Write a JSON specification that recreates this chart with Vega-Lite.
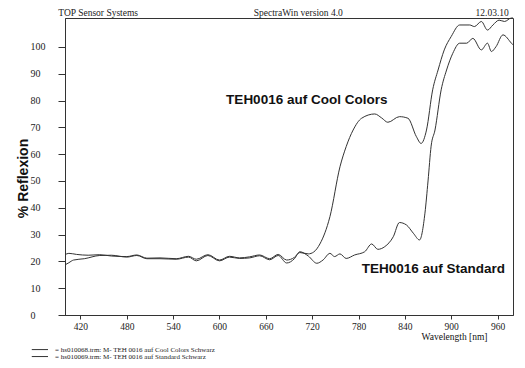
{
  "$schema": "https://vega.github.io/schema/vega-lite/v6.json",
  "width": 448,
  "height": 297,
  "autosize": {"type": "none"},
  "padding": {"left": 65, "top": 18, "right": 12, "bottom": 53},
  "background": "white",
  "config": {
    "view": {"stroke": "#333", "strokeWidth": 1},
    "axis": {"grid": false, "domainColor": "#333", "tickColor": "#333", "labelColor": "#222", "titleColor": "#111"}
  },
  "datasets": {
    "curves": [
      {"series": "Cool", "w": 400, "v": 22.5}, {"series": "Cool", "w": 405, "v": 23}, {"series": "Cool", "w": 415, "v": 22.6},
      {"series": "Cool", "w": 430, "v": 22.3}, {"series": "Cool", "w": 445, "v": 22.5}, {"series": "Cool", "w": 460, "v": 22},
      {"series": "Cool", "w": 480, "v": 21.8}, {"series": "Cool", "w": 493, "v": 22.4}, {"series": "Cool", "w": 506, "v": 21.2},
      {"series": "Cool", "w": 523, "v": 21.3}, {"series": "Cool", "w": 544, "v": 21}, {"series": "Cool", "w": 560, "v": 21.9},
      {"series": "Cool", "w": 570, "v": 20.8}, {"series": "Cool", "w": 585, "v": 22.5}, {"series": "Cool", "w": 600, "v": 20.5},
      {"series": "Cool", "w": 613, "v": 21.9}, {"series": "Cool", "w": 626, "v": 21.3}, {"series": "Cool", "w": 639, "v": 21.7},
      {"series": "Cool", "w": 652, "v": 22.4}, {"series": "Cool", "w": 665, "v": 21}, {"series": "Cool", "w": 676, "v": 22.6},
      {"series": "Cool", "w": 687, "v": 20.5}, {"series": "Cool", "w": 697, "v": 21.5}, {"series": "Cool", "w": 704, "v": 23.3},
      {"series": "Cool", "w": 715, "v": 22.8}, {"series": "Cool", "w": 722, "v": 23.5}, {"series": "Cool", "w": 730, "v": 26.5},
      {"series": "Cool", "w": 743, "v": 36.7}, {"series": "Cool", "w": 756, "v": 55.3}, {"series": "Cool", "w": 764, "v": 62.8},
      {"series": "Cool", "w": 773, "v": 69}, {"series": "Cool", "w": 784, "v": 73.4}, {"series": "Cool", "w": 801, "v": 75},
      {"series": "Cool", "w": 810, "v": 73.5}, {"series": "Cool", "w": 818, "v": 71.9}, {"series": "Cool", "w": 833, "v": 74},
      {"series": "Cool", "w": 844, "v": 73.4}, {"series": "Cool", "w": 855, "v": 66.5}, {"series": "Cool", "w": 861, "v": 64},
      {"series": "Cool", "w": 868, "v": 69}, {"series": "Cool", "w": 876, "v": 84}, {"series": "Cool", "w": 883, "v": 91.4},
      {"series": "Cool", "w": 891, "v": 98.9}, {"series": "Cool", "w": 900, "v": 103.9}, {"series": "Cool", "w": 911, "v": 108.2},
      {"series": "Cool", "w": 924, "v": 108.2}, {"series": "Cool", "w": 930, "v": 107.6}, {"series": "Cool", "w": 939, "v": 109.5},
      {"series": "Cool", "w": 947, "v": 106.3}, {"series": "Cool", "w": 954, "v": 108.2}, {"series": "Cool", "w": 962, "v": 110},
      {"series": "Cool", "w": 969, "v": 109.5}, {"series": "Cool", "w": 978, "v": 110.8}, {"series": "Cool", "w": 980, "v": 110.8},

      {"series": "Standard", "w": 400, "v": 18.7}, {"series": "Standard", "w": 405, "v": 19.5}, {"series": "Standard", "w": 411, "v": 20.5},
      {"series": "Standard", "w": 425, "v": 21}, {"series": "Standard", "w": 445, "v": 22.2}, {"series": "Standard", "w": 460, "v": 22.3},
      {"series": "Standard", "w": 480, "v": 21.6}, {"series": "Standard", "w": 493, "v": 22.2}, {"series": "Standard", "w": 506, "v": 21},
      {"series": "Standard", "w": 523, "v": 21}, {"series": "Standard", "w": 544, "v": 20.8}, {"series": "Standard", "w": 560, "v": 21.6},
      {"series": "Standard", "w": 570, "v": 20.2}, {"series": "Standard", "w": 585, "v": 22.2}, {"series": "Standard", "w": 600, "v": 20.2},
      {"series": "Standard", "w": 613, "v": 21.6}, {"series": "Standard", "w": 626, "v": 21.1}, {"series": "Standard", "w": 639, "v": 21.3},
      {"series": "Standard", "w": 652, "v": 22.1}, {"series": "Standard", "w": 665, "v": 20.6}, {"series": "Standard", "w": 676, "v": 22.2},
      {"series": "Standard", "w": 687, "v": 19.4}, {"series": "Standard", "w": 697, "v": 21}, {"series": "Standard", "w": 704, "v": 23.6},
      {"series": "Standard", "w": 715, "v": 22}, {"series": "Standard", "w": 726, "v": 19.3}, {"series": "Standard", "w": 734, "v": 20.5},
      {"series": "Standard", "w": 743, "v": 23}, {"series": "Standard", "w": 749, "v": 21.8}, {"series": "Standard", "w": 756, "v": 22.8},
      {"series": "Standard", "w": 764, "v": 21.1}, {"series": "Standard", "w": 775, "v": 22.4}, {"series": "Standard", "w": 788, "v": 23.6},
      {"series": "Standard", "w": 797, "v": 26.5}, {"series": "Standard", "w": 805, "v": 24.5}, {"series": "Standard", "w": 814, "v": 25.5},
      {"series": "Standard", "w": 825, "v": 29.2}, {"series": "Standard", "w": 833, "v": 34.5}, {"series": "Standard", "w": 842, "v": 33.6},
      {"series": "Standard", "w": 851, "v": 30.5}, {"series": "Standard", "w": 859, "v": 28}, {"series": "Standard", "w": 866, "v": 38},
      {"series": "Standard", "w": 870, "v": 50}, {"series": "Standard", "w": 874, "v": 63}, {"series": "Standard", "w": 879, "v": 69},
      {"series": "Standard", "w": 887, "v": 84}, {"series": "Standard", "w": 894, "v": 91.4}, {"series": "Standard", "w": 902, "v": 97.6},
      {"series": "Standard", "w": 911, "v": 101.4}, {"series": "Standard", "w": 920, "v": 101.4}, {"series": "Standard", "w": 928, "v": 103.2},
      {"series": "Standard", "w": 939, "v": 98.9}, {"series": "Standard", "w": 947, "v": 101.4}, {"series": "Standard", "w": 952, "v": 98.3},
      {"series": "Standard", "w": 958, "v": 100.1}, {"series": "Standard", "w": 967, "v": 104.5}, {"series": "Standard", "w": 978, "v": 101.4},
      {"series": "Standard", "w": 980, "v": 100.8}
    ],
    "labels": [
      {"w": 713, "v": 80.2, "label": "TEH0016 auf Cool Colors"},
      {"w": 877, "v": 17.2, "label": "TEH0016 auf Standard"}
    ],
    "header": [
      {"w": 443, "v": 112.8, "label": "TOP Sensor Systems"},
      {"w": 702, "v": 112.8, "label": "SpectraWin version 4.0"},
      {"w": 953, "v": 112.8, "label": "12.03.10"}
    ],
    "legendLines": [
      {"w": 357, "w2": 378, "v": -12.9},
      {"w": 357, "w2": 378, "v": -15.5}
    ],
    "legendText": [
      {"w": 387, "v": -12.9, "label": "= hs010068.trm:  M- TEH 0016 auf Cool Colors Schwarz"},
      {"w": 387, "v": -15.5, "label": "= hs010069.trm:  M- TEH 0016 auf Standard Schwarz"}
    ]
  },
  "encoding": {
    "x": {
      "field": "w", "type": "quantitative",
      "scale": {"domain": [400, 980], "nice": false, "zero": false},
      "axis": {
        "values": [420, 480, 540, 600, 660, 720, 780, 840, 900, 960],
        "labelFont": "Liberation Serif", "labelFontSize": 9.5, "tickSize": 4, "labelPadding": 2,
        "title": "Wavelength [nm]", "titleFont": "Liberation Serif", "titleFontSize": 9.5, "titleFontWeight": "normal",
        "titleAlign": "right", "titleAnchor": "end", "titleX": 422, "titleY": 21, "titleBaseline": "middle"
      }
    },
    "y": {
      "field": "v", "type": "quantitative",
      "scale": {"domain": [0, 110.8], "nice": false, "zero": false},
      "axis": {
        "values": [0, 10, 20, 30, 40, 50, 60, 70, 80, 90, 100],
        "labelFont": "Liberation Serif", "labelFontSize": 10, "tickSize": 7, "labelAlign": "left", "labelPadding": 28,
        "title": "% Reflexion", "titleFont": "Liberation Sans", "titleFontSize": 14, "titleFontWeight": "bold",
        "titleAngle": 270, "titleX": -42, "titleY": 160, "titleAlign": "center", "titleBaseline": "middle"
      }
    }
  },
  "layer": [
    {
      "data": {"name": "curves"},
      "mark": {"type": "line", "color": "#333", "strokeWidth": 1, "interpolate": "monotone"},
      "encoding": {"detail": {"field": "series"}}
    },
    {
      "data": {"name": "labels"},
      "mark": {"type": "text", "font": "Liberation Sans", "fontWeight": "bold", "fontSize": 13.5, "color": "#111", "align": "center", "baseline": "middle"},
      "encoding": {"text": {"field": "label"}}
    },
    {
      "data": {"name": "header"},
      "mark": {"type": "text", "font": "Liberation Serif", "fontSize": 9.5, "color": "#222", "align": "center", "baseline": "middle"},
      "encoding": {"text": {"field": "label"}}
    },
    {
      "data": {"name": "legendLines"},
      "mark": {"type": "rule", "color": "#333", "strokeWidth": 1},
      "encoding": {"x2": {"field": "w2"}}
    },
    {
      "data": {"name": "legendText"},
      "mark": {"type": "text", "font": "Liberation Serif", "fontSize": 7, "color": "#222", "align": "left", "baseline": "middle"},
      "encoding": {"text": {"field": "label"}}
    }
  ]
}
